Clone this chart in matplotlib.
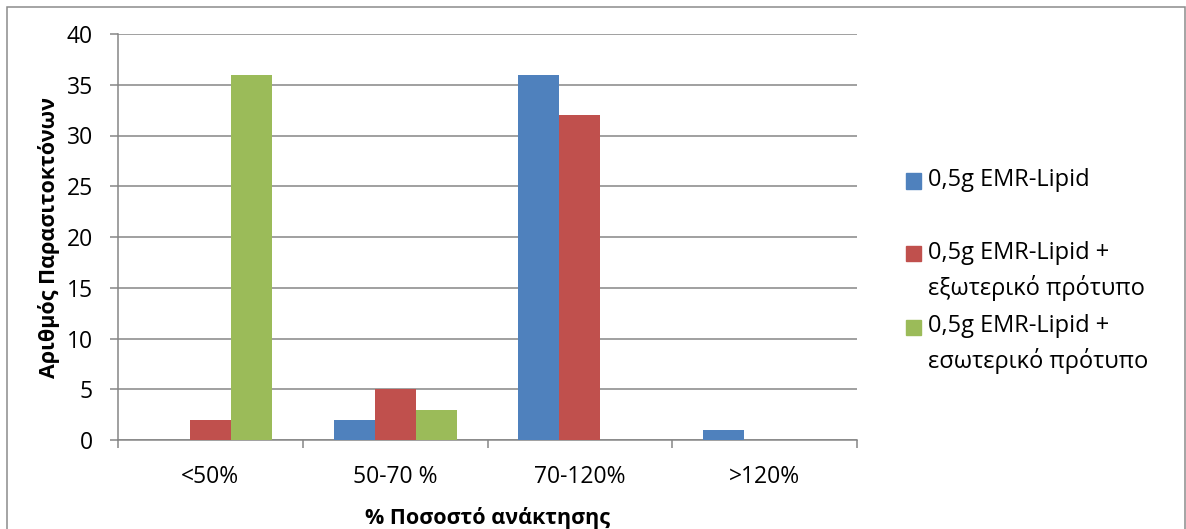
import matplotlib
matplotlib.use("Agg")
import matplotlib.pyplot as plt
from matplotlib.patches import Rectangle
import numpy as np

plt.rcParams['font.family'] = ['Open Sans', 'Noto Sans', 'DejaVu Sans']

categories = ['<50%', '50-70 %', '70-120%', '>120%']
series_names = ['0,5g EMR-Lipid',
                '0,5g EMR-Lipid +\nεξωτερικό πρότυπο',
                '0,5g EMR-Lipid +\nεσωτερικό πρότυπο']
emr_lipid = [0, 2, 36, 1]
emr_external = [2, 5, 32, 0]
emr_internal = [36, 3, 0, 0]
colors = ['#4F81BD', '#C0504D', '#9BBB59']

W, H = 1186, 529
fig = plt.figure(figsize=(W / 100, H / 100), dpi=100)
ax = fig.add_axes([118 / W, (H - 440) / H, (857 - 118) / W, (440 - 34) / H])

grid_col = '#868686'
fs_tick = 16.5
fs_lab = 15.5
fs_leg = 17
x = np.arange(len(categories))
bw = 1 / 4.5  # gap width 150%
bars = []
for i, (vals, c) in enumerate(zip([emr_lipid, emr_external, emr_internal], colors)):
    bars.append(ax.bar(x + (i - 1) * bw, vals, width=bw, color=c, zorder=3))

ax.set_xlim(-0.5, len(categories) - 0.5)
ax.set_ylim(0, 40)
ax.set_yticks(range(0, 41, 5))
ax.yaxis.grid(True, color=grid_col, lw=1.1, zorder=0)

for s in ['top', 'right']:
    ax.spines[s].set_visible(False)
for s in ['left', 'bottom']:
    ax.spines[s].set_color(grid_col)
    ax.spines[s].set_linewidth(1.1)

ax.set_xticks(x)
ax.set_xticklabels(categories)
ax.set_xticks(np.arange(-0.5, len(categories), 1), minor=True)
ax.tick_params(axis='x', which='major', length=0, pad=18, labelsize=fs_tick)
ax.tick_params(axis='x', which='minor', length=6, width=1.1, color=grid_col)
ax.tick_params(axis='y', length=6, width=1.1, color=grid_col, pad=12, labelsize=fs_tick)

ax.set_xlabel('% Ποσοστό ανάκτησης', fontsize=fs_lab, fontweight='bold', labelpad=13)
ax.set_ylabel('Αριθμός Παρασιτοκτόνων', fontsize=fs_lab, fontweight='bold', labelpad=5)

# legend drawn item by item, Excel-style spacing
leg_y = [181, 254, 327]
for name, c, yy in zip(series_names, colors, leg_y):
    fig.patches.append(Rectangle((906 / W, (H - yy - 7.5) / H), 15 / W, 15 / H,
                                 transform=fig.transFigure, color=c))
    fig.text(928 / W, (H - yy + 13) / H, name, fontsize=fs_leg, va='top',
             ha='left', linespacing=1.5)

# chart area border
fig.patches.append(Rectangle((7 / W, -0.05), (1185 - 7) / W, (H - 7) / H + 0.05,
                             transform=fig.transFigure, fill=False,
                             edgecolor='#8c8c8c', lw=1.1))

fig.savefig('out.png', dpi=100)
